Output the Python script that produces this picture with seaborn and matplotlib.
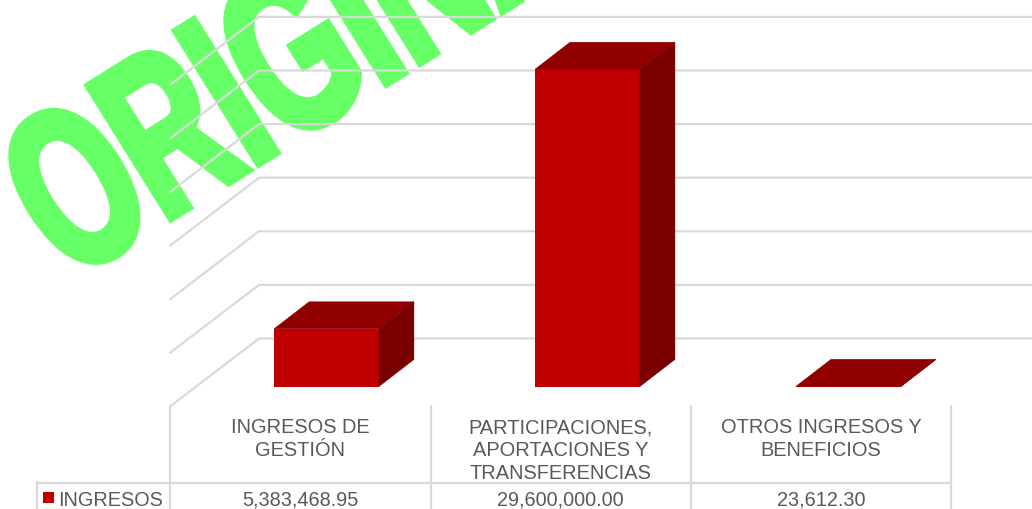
import matplotlib
matplotlib.use("Agg")
import matplotlib.pyplot as plt
import matplotlib.patheffects as pe
from matplotlib.patches import Polygon, Rectangle
from matplotlib.transforms import Affine2D
import seaborn as sns
import pandas as pd

categorias = ['INGRESOS DE\nGESTIÓN', 'PARTICIPACIONES,\nAPORTACIONES Y\nTRANSFERENCIAS', 'OTROS INGRESOS Y\nBENEFICIOS']
ingresos = [5383468.95, 29600000.00, 23612.30]
etiquetas = ['5,383,468.95', '29,600,000.00', '23,612.30']
serie = 'INGRESOS'
marca = 'ORIGINAL'
ticks = [0, 5000000, 10000000, 15000000, 20000000, 25000000, 30000000]

ROJO = '#C00000'
TECHO = '#900000'
LADO = '#7A0000'
GRIS = '#D9D9D9'
TEXTO = '#595959'
VERDE = '#66FF66'

sns.set_theme(style='white')
plt.rcParams['font.family'] = ['Liberation Sans', 'DejaVu Sans']

fig = plt.figure(figsize=(10.32, 5.10), dpi=100)

# pixel axes for the table and the watermark, chart axes on top of it
deco = fig.add_axes([0, 0, 1, 1], zorder=0)
deco.set_xlim(0, 1032)
deco.set_ylim(510, 0)
deco.set_axis_off()

ax = fig.add_axes([0, 0, 1, 1], zorder=1)
ax.patch.set_visible(False)

df = pd.DataFrame({'categoria': categorias, 'ingresos': ingresos})
sns.barplot(data=df, x='categoria', y='ingresos', color=ROJO, saturation=1, width=0.402, linewidth=0, ax=ax, zorder=3)

# scales: one category = 261 px, 5M = 53.6 px
PX_X = 1 / 261
PX_Y = 5000000 / 53.6
ax.set_xlim(-326.5 * PX_X, (1032 - 326.5) * PX_X)
ax.set_ylim(-122.5 * PX_Y, 387.5 * PX_Y)
ax.set_axis_off()


# fake 3D depth of the Excel chart
def grid_line(v):
    x0 = -0.5 - 26 * PX_X
    y0 = v - 20 * PX_Y
    x1 = x0 + 89 * PX_X
    y1 = y0 + 68 * PX_Y
    ax.plot([x0, x1, 3], [y0, y1, y1], color=GRIS, lw=1.6, zorder=1, solid_joinstyle='miter')


for t in ticks:
    grid_line(t)

dx = 35 * PX_X
dy = 27 * PX_Y
for bar in ax.patches:
    x0 = bar.get_x()
    x1 = x0 + bar.get_width()
    h = bar.get_height()
    ax.add_patch(Polygon([(x0, h), (x1, h), (x1 + dx, h + dy), (x0 + dx, h + dy)], fc=TECHO, ec=TECHO, lw=0.3, zorder=4))
    ax.add_patch(Polygon([(x1, 0), (x1, h), (x1 + dx, h + dy), (x1 + dx, dy)], fc=LADO, ec=LADO, lw=0.3, zorder=4))


# squeezes the glyphs along the baseline and fattens them, the watermark is a condensed heavy type
class Squeeze(pe.AbstractPathEffect):
    def __init__(self, sx, sy, grosor):
        super().__init__()
        self.sx = sx
        self.sy = sy
        self.grosor = grosor

    def draw_path(self, renderer, gc, tpath, affine, rgbFace=None):
        gc0 = renderer.new_gc()
        gc0.copy_properties(gc)
        gc0.set_linewidth(self.grosor)
        gc0.set_foreground(rgbFace)
        gc0.set_joinstyle('miter')
        renderer.draw_path(gc0, tpath, Affine2D().scale(self.sx, self.sy) + affine, rgbFace)
        gc0.restore()


deco.text(69, 283, marca, family='Liberation Sans', fontweight='bold', fontsize=170, color=VERDE,
          rotation=32, rotation_mode='anchor', ha='left', va='baseline',
          path_effects=[Squeeze(0.605, 0.96, 5.8)], zorder=1)

# data table below the chart
cols = [170, 430.5, 691, 951]
for x in cols:
    deco.plot([x, x], [407, 510], color=GRIS, lw=1.6, zorder=2)
deco.plot([37, 37], [483, 510], color=GRIS, lw=1.6, zorder=2)
deco.plot([37, 951], [483.5, 483.5], color=GRIS, lw=1.6, zorder=2)
deco.add_patch(Rectangle((43, 493), 11, 11, color=ROJO, lw=0))
deco.text(58, 498.5, serie, color=TEXTO, fontsize=14.3, ha='left', va='center_baseline')

for i, cat in enumerate(categorias):
    xc = (cols[i] + cols[i + 1]) / 2
    deco.text(xc, 418.5, cat, color=TEXTO, fontsize=14.4, ha='center', va='top', linespacing=1.24)
    deco.text(xc, 498.5, etiquetas[i], color=TEXTO, fontsize=14.3, ha='center', va='center_baseline')

fig.savefig('out.png', dpi=100)
